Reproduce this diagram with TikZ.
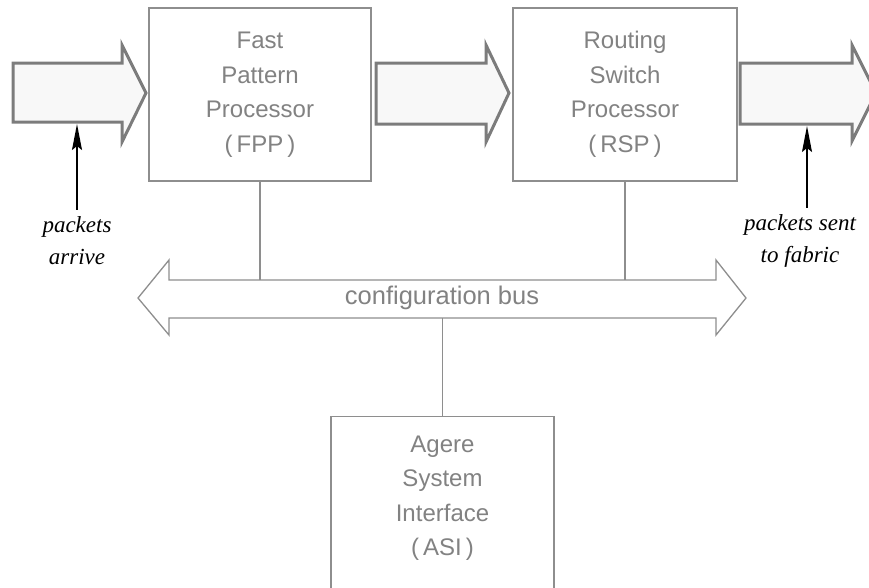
\documentclass[tikz,border=0pt]{standalone}
\usepackage{fontspec}
\setmainfont{Liberation Serif}
\setsansfont{Liberation Sans}
\usepackage{xcolor}
\usepackage{tikz}
\usetikzlibrary{arrows.meta, positioning, calc}
\definecolor{boxgray}{HTML}{8E8E8E}
\definecolor{textgray}{HTML}{828282}
\definecolor{pipegray}{HTML}{7C7C7C}
\definecolor{pipefill}{HTML}{F8F8F8}

\begin{document}
\begin{tikzpicture}[
        x=1pt, y=-1pt,
        unit/.style={draw=boxgray, line width=1.3pt, fill=white,
                     minimum width=222pt, minimum height=173pt, inner sep=0pt,
                     align=center, text=textgray,
                     font=\sffamily\fontsize{24}{34.5}\selectfont},
        pipe/.style={draw=pipegray, line width=3pt, fill=pipefill},
        busline/.style={draw=boxgray, line width=1.3pt, fill=white},
        wire/.style={boxgray, line width=1.3pt},
        note/.style={align=center, inner sep=0pt, outer ysep=7pt,
                     font=\itshape\fontsize{23}{32}\selectfont},
        pointer/.style={black, line width=1.5pt,
                        -{Stealth[length=26pt, width=10pt, inset=4pt]}}
      ]
      \useasboundingbox (0,0) rectangle (869,587);
      \clip (0,0) rectangle (869,587);
      % processor boxes
      \node[unit] (FPP) at (260,94.5) {Fast\\Pattern\\Processor\\(\,FPP\,)};
      \node[unit, minimum width=224pt] (RSP) at (625,94.5)
        {Routing\\Switch\\Processor\\(\,RSP\,)};
      \node[unit, minimum width=223pt, minimum height=190pt, anchor=north]
        (ASI) at (442.5,416) {};
      \node[text=textgray, align=center,
            font=\sffamily\fontsize{24}{34.5}\selectfont]
        (ASItext) at (442.5,498) {Agere\\System\\Interface\\(\,ASI\,)};
      % packet flow arrows
      \draw[pipe] (13,63) -- (122,63) -- (122,45) -- (146,93) -- (122,142)
        -- (122,122) -- (13,122) -- cycle;
      \draw[pipe] (376,63) -- (486,63) -- (486,45) -- (509,93) -- (486,142)
        -- (486,124) -- (376,124) -- cycle;
      \draw[pipe] (740,63) -- (852,63) -- (852,45) -- (876,93) -- (852,141)
        -- (852,124) -- (740,124) -- cycle;
      \coordinate (inTail) at (77,124);
      \coordinate (outTail) at (807,126);
      % configuration bus
      \draw[busline] (138,298) -- (169,260) -- (169,280) -- (716,280)
        -- (716,260) -- (746,298) -- (716,335) -- (716,318) -- (169,318)
        -- (169,335) -- cycle;
      \coordinate (busN) at (442,280);
      \coordinate (busS) at (442,318);
      \node[text=textgray, font=\sffamily\fontsize{25.5}{28}\selectfont]
        (bus) at (442,298) {configuration bus};
      \draw[wire] (FPP.south) -- (FPP.south |- busN);
      \draw[wire] (RSP.south) -- (RSP.south |- busN);
      \draw[wire] (ASI.north) -- (ASI.north |- busS);
      % labels
      \node[note] (arrive) at (77,241) {packets\\arrive};
      \node[note] (sent) at (800,241) {packets sent\\to fabric};
      \draw[pointer] (arrive.north) -- (inTail);
      \draw[pointer] (sent.north -| outTail) -- (outTail);
    \end{tikzpicture}
\end{document}
